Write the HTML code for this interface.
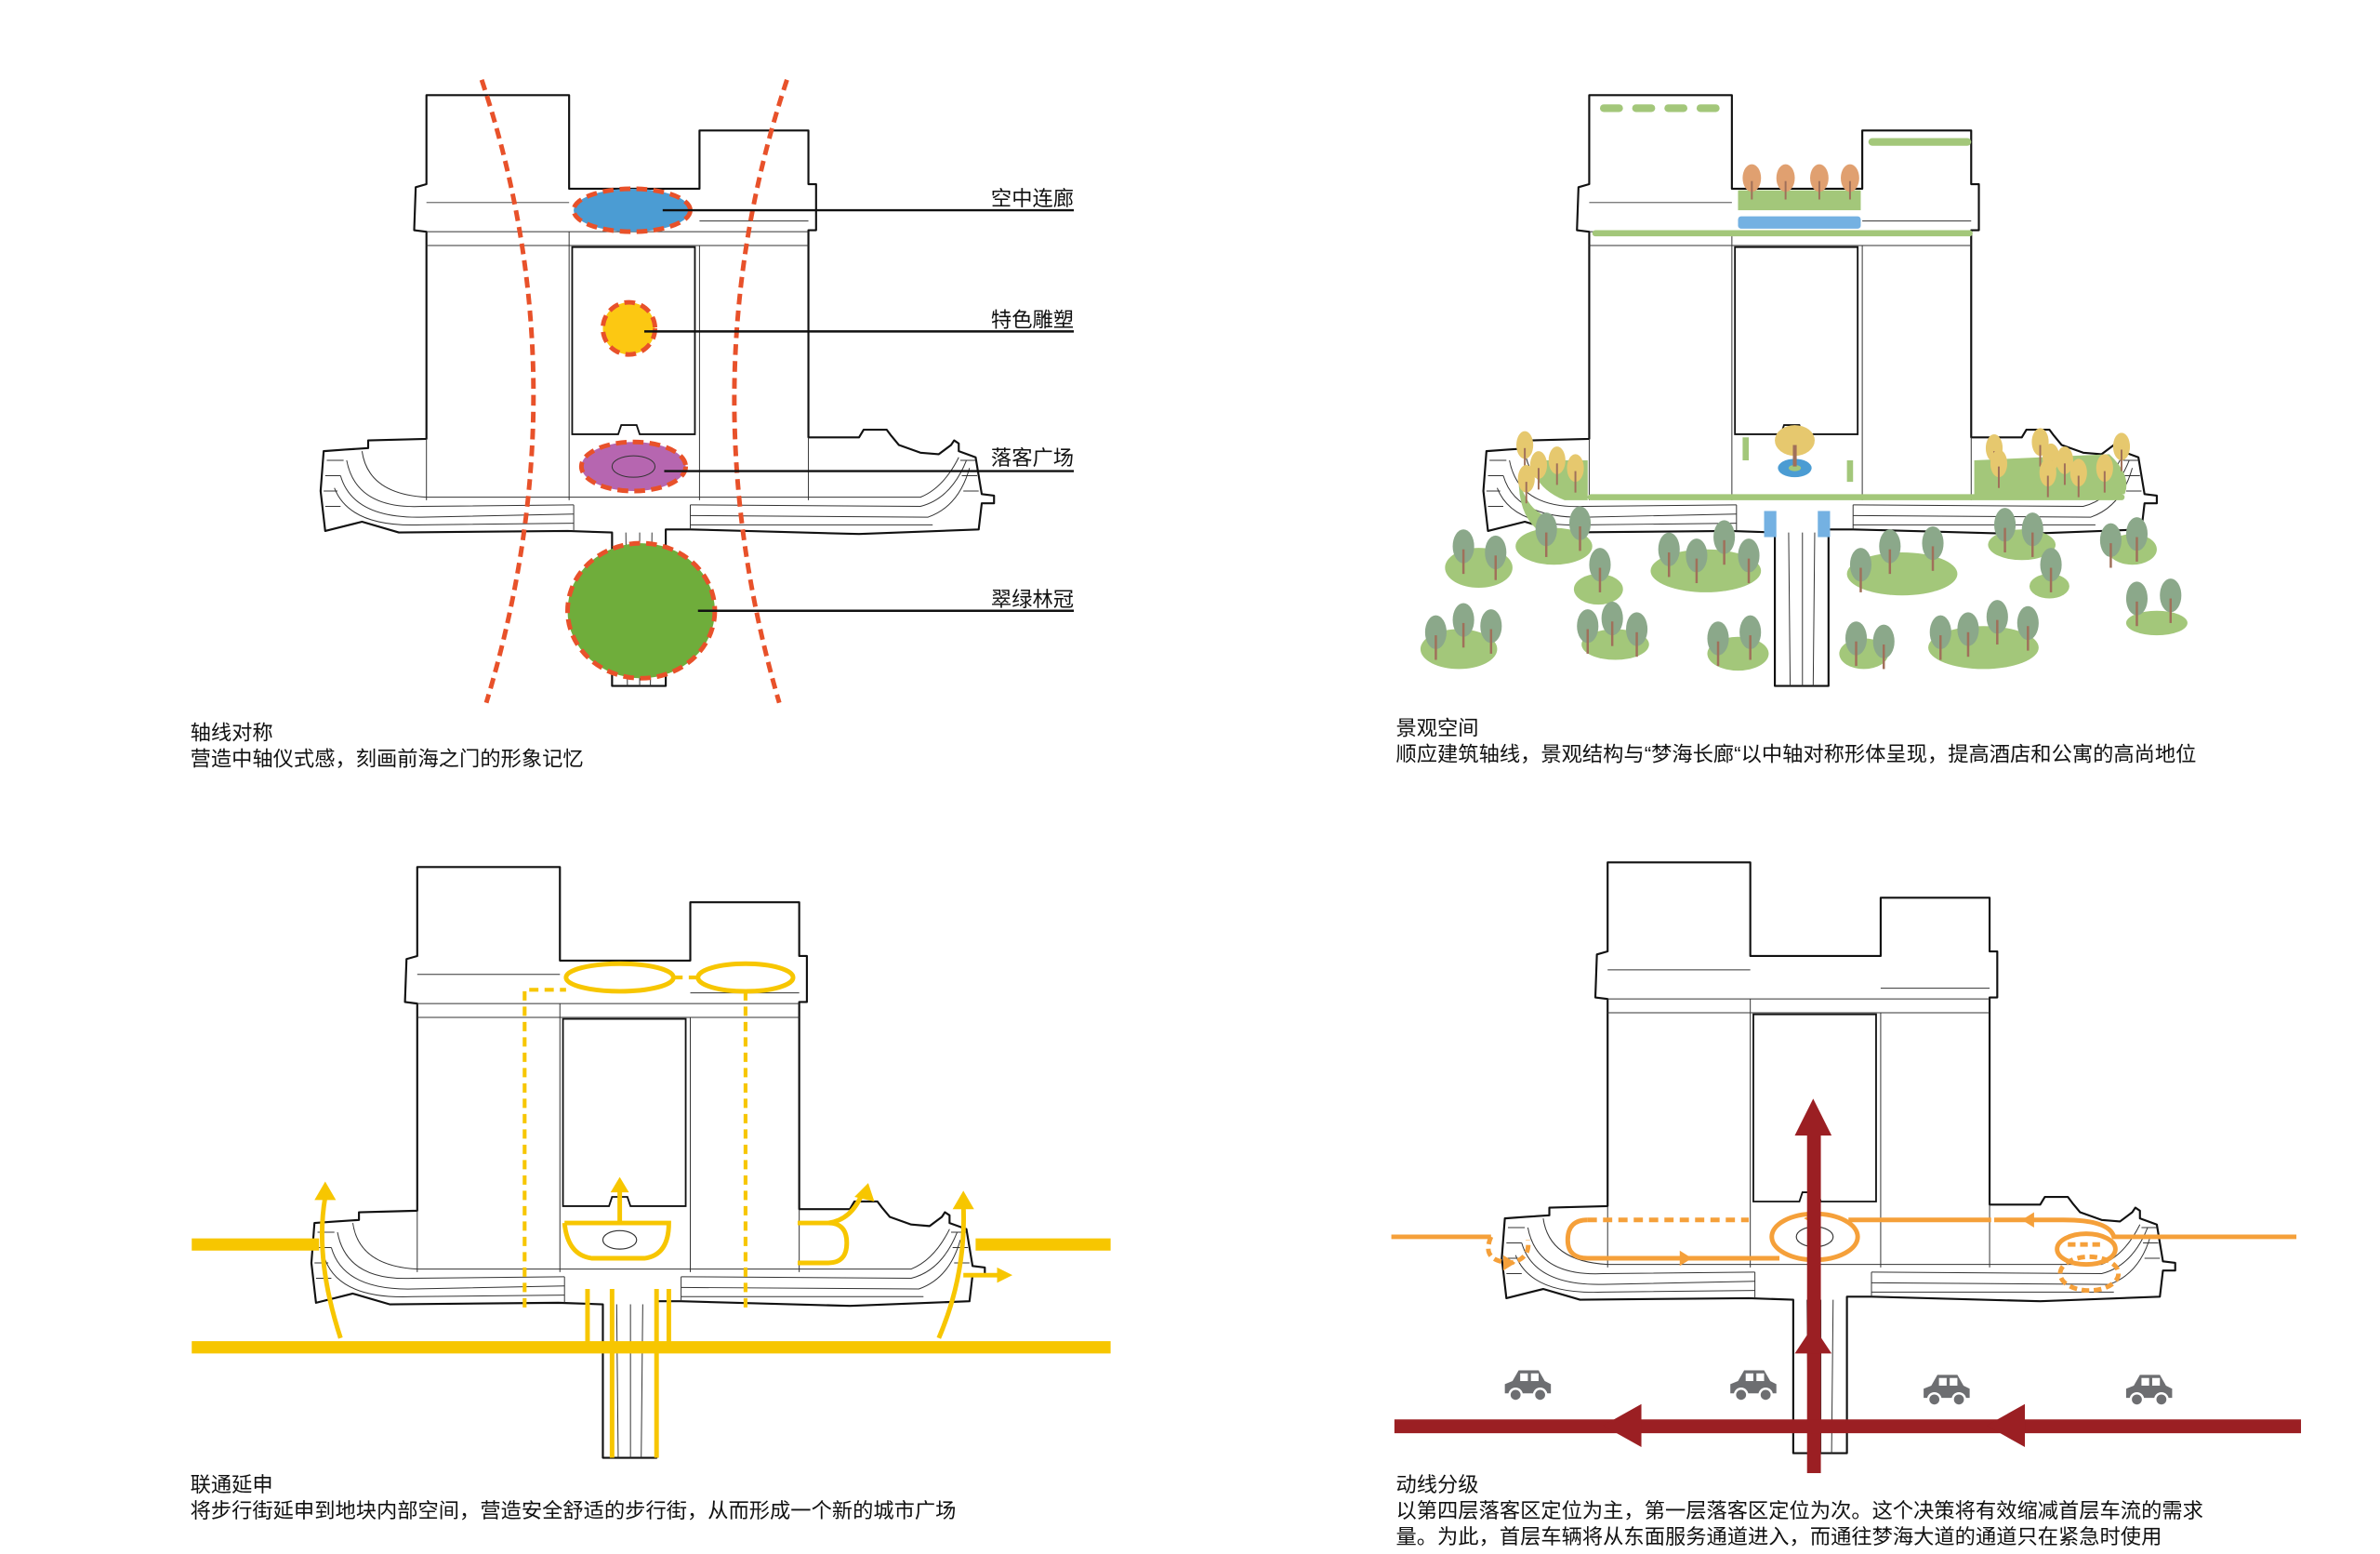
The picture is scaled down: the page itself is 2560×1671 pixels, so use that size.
<!DOCTYPE html>
<html><head><meta charset="utf-8"><style>
html,body{margin:0;padding:0;background:#fff;}
svg{display:block}
text{font-family:"Liberation Sans","Noto Sans CJK SC",sans-serif;font-size:13.5px;fill:#111;}
</style></head><body>
<svg width="2560" height="1671" viewBox="0 0 1551.5 1012.7" xmlns="http://www.w3.org/2000/svg">
<defs>
<g id="bld">
<path d="M278,62 H371 V123 H456 V85 H527 V120 H532 V150 H527 V285 H560 L563,280 H578 L581,284 L586,290 L600,295 L612,296 L620,290 L622,287 L625,289 V294 L636,298 L640,322 L648,323 L648,328 L640,328 L638,345 L560,348 L450,345 H434 V447 H399 V347 L370,346 L260,347 L236,340 L212,346 L209,320 L211,294 L225,293 L240,292 L240,287 L278,286 V151 L270,150 L271,122 L278,120 Z" fill="#fff" stroke="#111" stroke-width="1.3" stroke-linejoin="round"/>
<g fill="none" stroke="#333" stroke-width="0.6">
<path d="M278,132 H371 M456,144 H527 M278,151 H527 M278,160 H527 M371,151 V326 M456,160 V326 M278,286 V326 M527,285 V326"/>
<path d="M236,294 Q240,322 278,324 L600,324 Q615,318 625,298"/>
<path d="M226,300 Q232,332 275,330 L374,329 M450,329 L600,330 Q620,325 630,300"/>
<path d="M222,310 Q230,338 275,337 L374,335 M450,336 L605,337 Q625,330 632,305"/>
<path d="M218,318 Q228,344 275,342 L374,341 M450,342 L608,342"/>
<path d="M213,300 H224 M212,310 H222 M211,320 H220 M212,330 H222 M626,300 H636 M627,310 H637 M628,320 H638"/>
<path d="M374,329 V346 M450,329 V345 M408,347 L409,447 M417,347 V447 M425,347 L424,447"/>
</g>
<path d="M373,161 H453 V283 H417 L415,277 H405 L403,283 H373 Z" fill="#fff" stroke="#111" stroke-width="1.1"/>
</g>
<g id="tree"><ellipse cx="0" cy="0" rx="7" ry="11" fill="#8ba88a"/><line x1="0" y1="2" x2="0" y2="18" stroke="#a0705a" stroke-width="1.5"/></g>
<g id="ytree"><ellipse cx="0" cy="0" rx="5.5" ry="9" fill="#e6c86e"/><line x1="0" y1="2" x2="0" y2="16" stroke="#a0705a" stroke-width="1.2"/></g>
<g id="otree"><ellipse cx="0" cy="0" rx="6" ry="9" fill="#e0a070"/><line x1="0" y1="2" x2="0" y2="14" stroke="#a0705a" stroke-width="1.2"/></g>
<g id="car"><path d="M-15,4 V-2 L-10,-4 L-6,-11 H7 L11,-4 L15,-2 V4 Z" fill="#6d6e71"/><rect x="-5" y="-9" width="5" height="5" fill="#fff"/><rect x="2" y="-9" width="5" height="5" fill="#fff"/><circle cx="-8" cy="5" r="4" fill="#6d6e71" stroke="#fff" stroke-width="1.5"/><circle cx="8" cy="5" r="4" fill="#6d6e71" stroke="#fff" stroke-width="1.5"/></g>
</defs>

<!-- PANEL 1 -->
<use href="#bld"/>
<g stroke="#e8512a" stroke-width="3" stroke-dasharray="7,4" fill="none">
<ellipse cx="412" cy="137" rx="38" ry="14" fill="#4b9cd3"/>
<circle cx="410" cy="214" r="17" fill="#fcc812"/>
<ellipse cx="413" cy="304" rx="34" ry="16" fill="#b666b0"/>
<ellipse cx="418" cy="398" rx="48" ry="44" fill="#6fad3b"/>
<path d="M314,52 Q380,250 317,458"/>
<path d="M513,52 Q447,250 508,458"/>
</g>
<ellipse cx="413" cy="304" rx="14" ry="7" fill="none" stroke="#333" stroke-width="0.6"/>
<g stroke="#111" stroke-width="1.5">
<line x1="432" y1="137" x2="700" y2="137"/><line x1="420" y1="216" x2="700" y2="216"/>
<line x1="433" y1="307" x2="700" y2="307"/><line x1="455" y1="398" x2="700" y2="398"/>
</g>
<g text-anchor="end"><text x="700" y="134">空中连廊</text><text x="700" y="213">特色雕塑</text><text x="700" y="303">落客广场</text><text x="700" y="395">翠绿林冠</text></g>
<text x="124" y="482">轴线对称</text><text x="124" y="499">营造中轴仪式感，刻画前海之门的形象记忆</text>

<!-- PANEL 2 -->
<use href="#bld" transform="translate(758,0)"/>
<g fill="#a3c77a">
<rect x="1043" y="68" width="15" height="5" rx="2.5"/><rect x="1064" y="68" width="15" height="5" rx="2.5"/><rect x="1085" y="68" width="15" height="5" rx="2.5"/><rect x="1106" y="68" width="15" height="5" rx="2.5"/>
<rect x="1218" y="90" width="67" height="5" rx="2.5"/>
<rect x="1133" y="124" width="80" height="13"/>
<rect x="1038" y="150" width="248" height="4" rx="2"/>
<path d="M998,300 L1035,300 V326 L1020,326 Q1000,318 998,300Z"/>
<path d="M1287,300 L1375,296 Q1390,310 1385,322 L1287,324Z"/>
<rect x="1035" y="322" width="350" height="4" rx="2"/>
<path d="M990,312 Q995,330 1005,335 L1002,345 Q990,335 990,312Z"/>
<rect x="1136" y="285" width="4" height="15"/><rect x="1204" y="300" width="4" height="14"/>
</g>
<rect x="1133" y="141" width="80" height="8" rx="2" fill="#74b1e2"/>
<rect x="1150" y="333" width="8" height="17" fill="#74b1e2"/><rect x="1185" y="333" width="8" height="17" fill="#74b1e2"/>
<ellipse cx="1170" cy="305" rx="11" ry="6" fill="#4b9cd3"/><ellipse cx="1170" cy="305" rx="4" ry="2" fill="#a3c77a"/>
<ellipse cx="1170" cy="287" rx="13" ry="10" fill="#e6c86e"/><line x1="1170" y1="290" x2="1170" y2="304" stroke="#a0705a" stroke-width="2.5"/>
<use href="#otree" x="1142" y="116"/><use href="#otree" x="1164" y="116"/><use href="#otree" x="1186" y="116"/><use href="#otree" x="1206" y="116"/>
<use href="#ytree" x="994" y="290"/><use href="#ytree" x="1003" y="303"/><use href="#ytree" x="1015" y="300"/><use href="#ytree" x="1027" y="305"/><use href="#ytree" x="995" y="312"/>
<use href="#ytree" x="1300" y="292"/><use href="#ytree" x="1303" y="302"/><use href="#ytree" x="1330" y="288"/><use href="#ytree" x="1337" y="298"/><use href="#ytree" x="1346" y="300"/><use href="#ytree" x="1335" y="308"/><use href="#ytree" x="1355" y="308"/><use href="#ytree" x="1372" y="305"/><use href="#ytree" x="1383" y="291"/>
<g fill="#a3c77a">
<ellipse cx="964" cy="370" rx="22" ry="13"/><ellipse cx="1013" cy="356" rx="25" ry="12"/><ellipse cx="1042" cy="384" rx="16" ry="10"/>
<ellipse cx="1112" cy="372" rx="36" ry="14"/><ellipse cx="1240" cy="374" rx="36" ry="14"/><ellipse cx="1318" cy="355" rx="22" ry="10"/>
<ellipse cx="1336" cy="382" rx="13" ry="8"/><ellipse cx="1390" cy="358" rx="16" ry="10"/>
<ellipse cx="951" cy="423" rx="25" ry="13"/><ellipse cx="1053" cy="420" rx="22" ry="10"/><ellipse cx="1133" cy="426" rx="20" ry="11"/>
<ellipse cx="1215" cy="426" rx="16" ry="10"/><ellipse cx="1293" cy="422" rx="36" ry="14"/><ellipse cx="1406" cy="406" rx="20" ry="8"/>
</g>
<g>
<use href="#tree" x="954" y="356"/><use href="#tree" x="975" y="360"/>
<use href="#tree" x="1008" y="345"/><use href="#tree" x="1030" y="341"/><use href="#tree" x="1043" y="368"/>
<use href="#tree" x="1088" y="358"/><use href="#tree" x="1106" y="362"/><use href="#tree" x="1124" y="350"/><use href="#tree" x="1140" y="362"/>
<use href="#tree" x="1213" y="368"/><use href="#tree" x="1232" y="356"/><use href="#tree" x="1260" y="354"/>
<use href="#tree" x="1307" y="342"/><use href="#tree" x="1325" y="345"/><use href="#tree" x="1337" y="368"/>
<use href="#tree" x="1376" y="352"/><use href="#tree" x="1393" y="348"/>
<use href="#tree" x="936" y="412"/><use href="#tree" x="954" y="404"/><use href="#tree" x="972" y="408"/>
<use href="#tree" x="1035" y="408"/><use href="#tree" x="1051" y="403"/><use href="#tree" x="1067" y="410"/>
<use href="#tree" x="1120" y="416"/><use href="#tree" x="1141" y="412"/>
<use href="#tree" x="1210" y="416"/><use href="#tree" x="1228" y="418"/>
<use href="#tree" x="1265" y="412"/><use href="#tree" x="1283" y="410"/><use href="#tree" x="1302" y="402"/><use href="#tree" x="1322" y="406"/>
<use href="#tree" x="1393" y="390"/><use href="#tree" x="1415" y="388"/>
</g>
<text x="910" y="479">景观空间</text><text x="910" y="496">顺应建筑轴线，景观结构与“梦海长廊“以中轴对称形体呈现，提高酒店和公寓的高尚地位</text>

<!-- PANEL 3 -->
<use href="#bld" transform="translate(-6,503)"/>
<g stroke="#f7c600" fill="none">
<line x1="125" y1="811" x2="208" y2="811" stroke-width="8"/><line x1="636" y1="811" x2="724" y2="811" stroke-width="8"/>
<line x1="125" y1="878" x2="724" y2="878" stroke-width="8"/>
<g stroke-width="3">
<path d="M222,872 Q205,820 212,780"/><path d="M612,872 Q630,830 628,785"/><path d="M628,831 H652"/>
<path d="M404,797 V775"/><path d="M368,797 H436 Q436,818 420,820 H386 Q370,818 368,797"/>
<path d="M520,797 H540 Q552,797 552,810 Q552,823 540,823 H520"/><path d="M540,797 Q555,795 562,778"/>
<ellipse cx="404" cy="637" rx="35" ry="9"/><ellipse cx="486" cy="637" rx="31" ry="9"/>
<path d="M399,840 V950 M428,840 V950 M383,840 V878 M436,840 V878"/>
</g>
<g stroke-width="2.5" stroke-dasharray="6,4">
<path d="M342,852 V645 H369"/><path d="M486,852 V646"/><path d="M439,637 H455"/>
</g>
</g>
<g fill="#f7c600">
<path d="M205,782 L212,770 L219,782Z"/><path d="M621,788 L628,776 L635,788Z"/><path d="M650,826 L660,831 L650,836Z"/>
<path d="M398,777 L404,767 L410,777Z"/><path d="M557,780 L566,771 L570,783Z"/>
</g>
<ellipse cx="404" cy="808" rx="11" ry="6" fill="#fff" stroke="#333" stroke-width="0.7"/>
<text x="124" y="972">联通延申</text><text x="124" y="989">将步行街延申到地块内部空间，营造安全舒适的步行街，从而形成一个新的城市广场</text>

<!-- PANEL 4 -->
<use href="#bld" transform="translate(770,500)"/>
<g stroke="#f5a03a" fill="none" stroke-width="3">
<line x1="907" y1="806" x2="972" y2="806"/>
<path d="M972,806 Q965,822 985,823 Q998,820 996,808" stroke-dasharray="5,3"/>
<path d="M1160,820 H1035 Q1022,820 1022,808 Q1022,795 1035,795"/>
<path d="M1035,795 H1140" stroke-dasharray="6,4"/>
<ellipse cx="1183" cy="806" rx="28" ry="15"/>
<path d="M1205,795 H1298"/>
<path d="M1300,795 H1345 Q1375,795 1378,806 H1497"/>
<ellipse cx="1360" cy="814" rx="19" ry="10"/>
<ellipse cx="1362" cy="830" rx="19" ry="11" stroke-dasharray="5,3"/>
<path d="M1348,811 H1372" stroke-dasharray="5,3"/>
</g>
<g fill="#f5a03a"><path d="M1095,815 L1103,820 L1095,825Z"/><path d="M1326,790 L1318,795 L1326,800Z"/><path d="M1183,790 L1176,794 L1183,798Z"/><path d="M980,818 L988,823 L980,828Z"/></g>
<ellipse cx="1183" cy="806" rx="12" ry="6.5" fill="#fff" stroke="#333" stroke-width="0.7"/>
<g fill="#9b1f23">
<rect x="1178" y="738" width="9" height="222"/>
<path d="M1170,740 L1194,740 L1182,716Z"/><path d="M1170,882 L1194,882 L1182,864Z"/>
<rect x="909" y="925" width="591" height="9"/>
<path d="M1045,929 L1070,915 L1070,943Z"/><path d="M1295,929 L1320,915 L1320,943Z"/>
</g>
<use href="#car" x="996" y="904"/><use href="#car" x="1143" y="904"/><use href="#car" x="1269" y="907"/><use href="#car" x="1401" y="907"/>
<text x="910" y="972">动线分级</text><text x="910" y="989">以第四层落客区定位为主，第一层落客区定位为次。这个决策将有效缩减首层车流的需求</text><text x="910" y="1006">量。为此，首层车辆将从东面服务通道进入，而通往梦海大道的通道只在紧急时使用</text>
</svg>
</body></html>
